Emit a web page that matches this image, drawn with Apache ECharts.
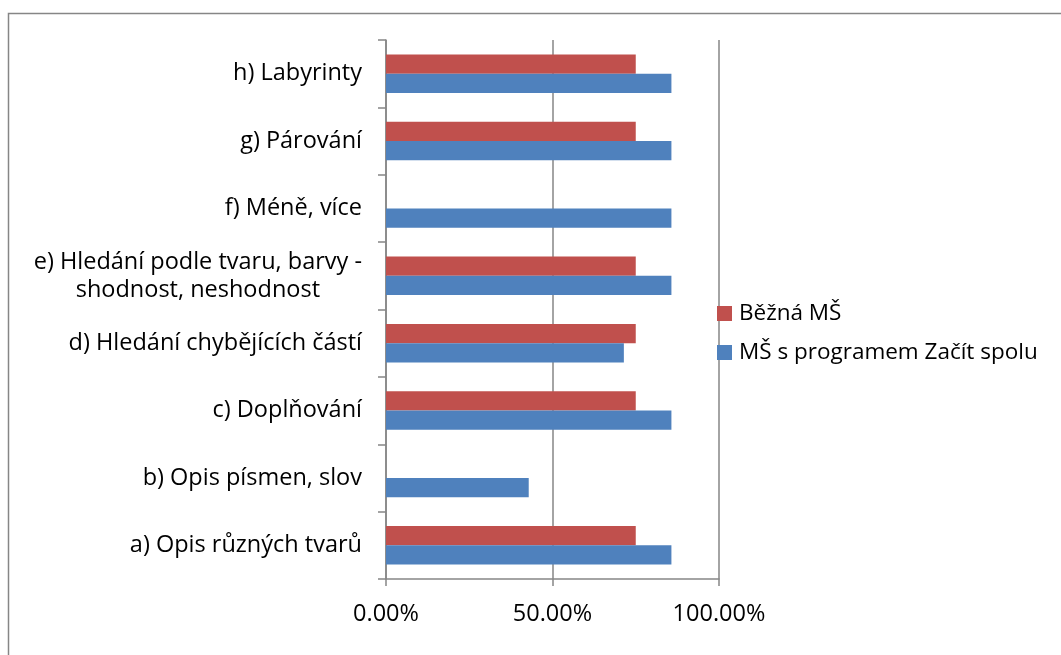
<!DOCTYPE html>
<html>
<head>
<meta charset="utf-8">
<title>Chart</title>
<script src="https://cdn.jsdelivr.net/npm/echarts@6/dist/echarts.min.js"></script>
<style>
	html, body { margin: 0; padding: 0; background: #fff; }
	#chart { width: 1061px; height: 655px; }
</style>
</head>
<body>
<div id="chart"></div>
<script>
'use strict';

// kategorie (zdola nahoru)
var categories = [
	'a) Opis různých tvarů',
	'b) Opis písmen, slov',
	'c) Doplňování',
	'd) Hledání chybějících částí',
	'e) Hledání podle tvaru, barvy -\nshodnost, neshodnost',
	'f) Méně, více',
	'g) Párování',
	'h) Labyrinty'
];

var seriesNames = ['Běžná MŠ', 'MŠ s programem Začít spolu'];

// hodnoty v procentech
var bezna = [75, null, 75, 75, 75, null, 75, 75];
var zacitSpolu = [85.71, 42.86, 85.71, 71.43, 85.71, 85.71, 85.71, 85.71];

var xTicks = [0, 50, 100];


(function(window, undefined){

	var FONT = '"Open Sans", sans-serif',
			SIZE = 23.5,
			GRAY = '#868686';

	/**
	 * popisek kategorie - víceřádkový text je centrovaný
	 * @param {String} value
	 * @return {String}
	 */
	function labelFormatter(value){
		if(value.indexOf('\n') === -1){
			return value;
		}
		return value.split('\n').map(function(v){ return '{c|' + v + '}'; }).join('\n');
	}

	var option = {
		backgroundColor: '#fff',
		animation: false,
		textStyle: { fontFamily: FONT },
		grid: { left: 386, right: 342, top: 40, bottom: 76 },
		legend: {
			orient: 'vertical',
			left: 717,
			top: 302,
			padding: 0,
			itemWidth: 15,
			itemHeight: 15,
			itemGap: 16,
			icon: 'rect',
			data: seriesNames,
			textStyle: { fontFamily: FONT, fontSize: 22.5, lineHeight: 22, color: '#000', padding: [0, 0, 0, 2] },
		},
		xAxis: {
			type: 'value',
			min: 0,
			max: 100,
			interval: 50,
			axisLine: { show: true, lineStyle: { color: GRAY, width: 1.5 } },
			axisTick: { show: true, length: 7, lineStyle: { color: GRAY, width: 1.5 } },
			splitLine: { show: true, lineStyle: { color: GRAY, width: 1.5 } },
			axisLabel: {
				margin: 23,
				fontFamily: FONT,
				fontSize: SIZE,
				color: '#000',
				formatter: function(v){
					return xTicks.indexOf(v) !== -1 ? v.toFixed(2) + '%' : '';
				},
			},
		},
		yAxis: {
			type: 'category',
			data: categories,
			axisLine: { show: true, lineStyle: { color: GRAY, width: 1.5 } },
			axisTick: { show: true, length: 8, lineStyle: { color: GRAY, width: 1.5 } },
			axisLabel: {
				margin: 24,
				fontFamily: FONT,
				fontSize: SIZE,
				color: '#000',
				lineHeight: 28,
				formatter: labelFormatter,
				rich: {
					c: { align: 'center', fontFamily: FONT, fontSize: SIZE, color: '#000', lineHeight: 28 },
				},
			},
		},
		series: [
			{
				name: seriesNames[0],
				type: 'bar',
				data: bezna,
				itemStyle: { color: '#C0504D' },
				barCategoryGap: '42.9%',
				barGap: '0%',
			},
			{
				name: seriesNames[1],
				type: 'bar',
				data: zacitSpolu,
				itemStyle: { color: '#4F81BD' },
				barCategoryGap: '42.9%',
				barGap: '0%',
			},
		],
		graphic: [{
			type: 'rect',
			shape: { x: 8.5, y: 13.5, width: 1100, height: 700 },
			style: { fill: 'none', stroke: GRAY, lineWidth: 1.5 },
			silent: true,
		}],
	};

	echarts.init(document.getElementById('chart')).setOption(option);

})(typeof window !== 'undefined' ? window : this, undefined);
</script>
</body>
</html>
